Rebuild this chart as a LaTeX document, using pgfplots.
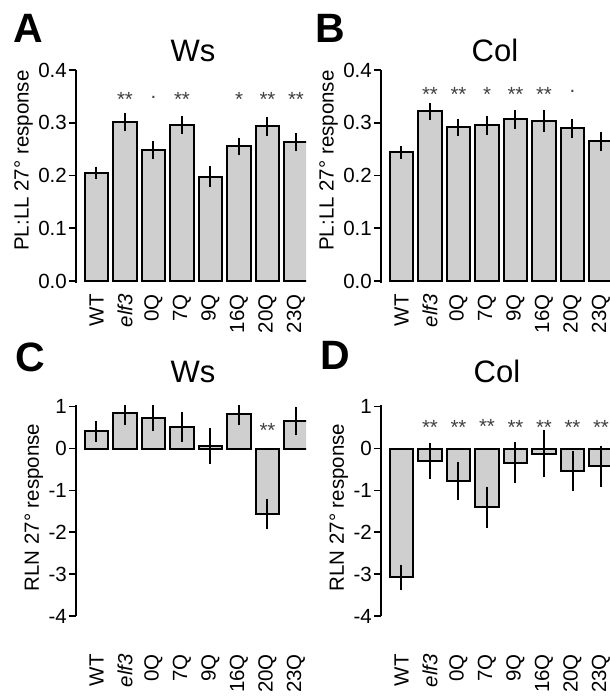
\documentclass[border=0pt]{standalone}
\usepackage{fontspec}
\setmainfont{Liberation Sans}
\usepackage{pgfplots}
\pgfplotsset{compat=1.18}
\usepackage{pgfplotstable}

% PL:LL response, Ws and Col
\pgfplotstableread{
x y e
0 0.205 0.012
1 0.302 0.017
2 0.248 0.017
3 0.296 0.017
4 0.198 0.020
5 0.255 0.017
6 0.293 0.018
7 0.263 0.017
}\plws
\pgfplotstableread{
x y e
0 0.244 0.012
1 0.322 0.016
2 0.291 0.017
3 0.295 0.018
4 0.307 0.018
5 0.304 0.021
6 0.290 0.018
7 0.265 0.018
}\plcol
% RLN response, Ws and Col
\pgfplotstableread{
x y e
0 0.41 0.25
1 0.84 0.27
2 0.73 0.31
3 0.52 0.36
4 0.06 0.42
5 0.82 0.26
6 -1.57 0.36
7 0.66 0.34
}\rlnws
\pgfplotstableread{
x y e
0 -3.08 0.31
1 -0.29 0.43
2 -0.77 0.46
3 -1.40 0.49
4 -0.34 0.49
5 -0.12 0.57
6 -0.54 0.47
7 -0.42 0.49
}\rlncol

\pgfplotsset{
  panel/.style={
    scale only axis, anchor=south west,
    axis y line*=left, axis x line*=bottom,
    x axis line style={draw=none},
    axis line style={line width=1.6pt},
    tick align=outside, major tick length=7pt,
    ytick style={line width=1.6pt, black},
    xtick style={draw=none},
    xtick={0,...,7},
    xticklabels={WT,\textit{elf3},0Q,7Q,9Q,16Q,20Q,23Q},
    xticklabel style={rotate=90, anchor=east, inner sep=0pt},
    yticklabel style={inner sep=2pt},
    ticklabel style={font=\fontsize{20.5}{22}\selectfont},
    label style={font=\fontsize{20.5}{22}\selectfont},
    ybar, bar width=0.82, xmin=-0.719,
  },
  bars/.style={fill=black!19, draw=black, line width=2pt,
    error bars/.cd, y dir=both, y explicit, error mark=none,
    error bar style={line width=2pt, black}},
}
\tikzset{sig/.style={inner sep=0pt, text=black!75, font=\fontsize{20.5}{22}\selectfont}}

\begin{document}
\begin{tikzpicture}
\useasboundingbox (0,0) rectangle (610pt,696pt);

% A
\begin{axis}[panel, at={(76pt,412.9pt)}, width=230pt, height=213.1pt,
  xmax=7.351, ymin=-0.004, ymax=0.4,
  ytick={0,0.1,0.2,0.3,0.4}, yticklabels={0.0,0.1,0.2,0.3,0.4},
  xticklabel shift=4pt,
  ylabel={PL:LL 27° response}, ylabel style={at={(ticklabel cs:0.575)}}]
\addplot[bars] table[x=x, y=y, y error=e] {\plws};
\node[sig, anchor=north] at (axis cs:1,0.357) {**};
\node[sig, anchor=south] at (axis cs:2,0.345) {.};
\node[sig, anchor=north] at (axis cs:3,0.357) {**};
\node[sig, anchor=north] at (axis cs:5,0.357) {*};
\node[sig, anchor=north] at (axis cs:6,0.357) {**};
\node[sig, anchor=north] at (axis cs:7,0.357) {**};
\end{axis}

% B
\begin{axis}[panel, at={(381pt,412.9pt)}, width=229pt, height=213.1pt,
  xmax=7.316, ymin=-0.004, ymax=0.4,
  ytick={0,0.1,0.2,0.3,0.4}, yticklabels={0.0,0.1,0.2,0.3,0.4},
  xticklabel shift=4pt,
  ylabel={PL:LL 27° response}, ylabel style={at={(ticklabel cs:0.575)}}]
\addplot[bars] table[x=x, y=y, y error=e] {\plcol};
\node[sig, anchor=north] at (axis cs:1,0.367) {**};
\node[sig, anchor=north] at (axis cs:2,0.367) {**};
\node[sig, anchor=north] at (axis cs:3,0.367) {*};
\node[sig, anchor=north] at (axis cs:4,0.367) {**};
\node[sig, anchor=north] at (axis cs:5,0.367) {**};
\node[sig, anchor=south] at (axis cs:6,0.357) {.};
\end{axis}

% C
\begin{axis}[panel, at={(76pt,80pt)}, width=230pt, height=210.6pt,
  xmax=7.351, ymin=-4, ymax=1.03,
  ytick={-4,-3,-2,-1,0,1}, yticklabels={-4,-3,-2,-1,0,1},
  xticklabel shift=31pt,
  ylabel={RLN 27° response}, ylabel style={at={(ticklabel cs:0.515)}}]
\addplot[bars] table[x=x, y=y, y error=e] {\rlnws};
\node[sig, anchor=north] at (axis cs:6,0.6) {**};
\end{axis}

% D
\begin{axis}[panel, at={(381pt,80pt)}, width=229pt, height=210.6pt,
  xmax=7.316, ymin=-4, ymax=1.03,
  ytick={-4,-3,-2,-1,0,1}, yticklabels={-4,-3,-2,-1,0,1},
  xticklabel shift=31pt,
  ylabel={RLN 27° response}, ylabel style={at={(ticklabel cs:0.515)}}]
\addplot[bars] table[x=x, y=y, y error=e] {\rlncol};
\node[sig, anchor=north] at (axis cs:1,0.68) {**};
\node[sig, anchor=north] at (axis cs:2,0.68) {**};
\node[sig, anchor=north] at (axis cs:3,0.70) {**};
\node[sig, anchor=north] at (axis cs:4,0.68) {**};
\node[sig, anchor=north] at (axis cs:5,0.68) {**};
\node[sig, anchor=north] at (axis cs:6,0.68) {**};
\node[sig, anchor=north] at (axis cs:7,0.68) {**};
\end{axis}

% titles and panel letters
\begin{scope}[every node/.style={inner sep=0pt}]
\node[anchor=base, font=\fontsize{31}{33}\selectfont] at (193pt,634pt) {Ws};
\node[anchor=base, font=\fontsize{31}{33}\selectfont] at (495pt,634pt) {Col};
\node[anchor=base, font=\fontsize{31}{33}\selectfont] at (193pt,313pt) {Ws};
\node[anchor=base, font=\fontsize{31}{33}\selectfont] at (497pt,313pt) {Col};
\node[anchor=base west, font=\bfseries\fontsize{41}{44}\selectfont] at (13pt,653pt) {A};
\node[anchor=base west, font=\bfseries\fontsize{41}{44}\selectfont] at (315pt,653pt) {B};
\node[anchor=base west, font=\bfseries\fontsize{41}{44}\selectfont] at (15pt,324pt) {C};
\node[anchor=base west, font=\bfseries\fontsize{41}{44}\selectfont] at (320pt,326pt) {D};
\end{scope}
\end{tikzpicture}
\end{document}
